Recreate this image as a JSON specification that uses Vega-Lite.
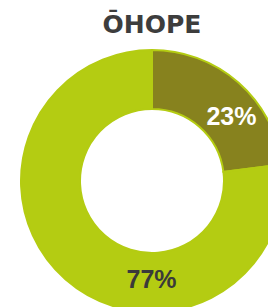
{
  "$schema": "https://vega.github.io/schema/vega-lite/v6.json",
  "autosize": {"type": "none"},
  "width": 232,
  "height": 200,
  "padding": {"left": 36, "top": 81, "right": 0, "bottom": 26},
  "background": "white",
  "title": {
    "text": "ŌHOPE",
    "anchor": "middle",
    "frame": "group",
    "font": "DejaVu Sans",
    "fontSize": 25,
    "fontWeight": "bold",
    "color": "#3d3d3d",
    "offset": 8
  },
  "data": {
    "values": [
      {"category": "Yes", "pct": 23, "label": "23%"},
      {"category": "No", "pct": 77, "label": "77%"}
    ]
  },
  "encoding": {
    "theta": {"field": "pct", "type": "quantitative", "stack": true},
    "order": {"field": "pct", "type": "quantitative", "sort": "ascending"}
  },
  "layer": [
    {
      "mark": {"type": "arc", "outerRadius": 131, "innerRadius": 72, "stroke": "#b4cc12", "strokeWidth": 2},
      "encoding": {
        "color": {
          "field": "category",
          "type": "nominal",
          "scale": {"domain": ["Yes", "No"], "range": ["#87821e", "#b4cc12"]},
          "legend": null
        }
      }
    },
    {
      "mark": {"type": "text", "radius": 102, "dx": 12, "dy": 13, "font": "Liberation Sans", "fontSize": 25, "fontWeight": "bold", "fill": "white"},
      "encoding": {
        "text": {"condition": {"test": "datum.category === 'Yes'", "field": "label"}, "value": ""}
      }
    },
    {
      "mark": {"type": "text", "radius": 99, "dx": 65, "dy": 25, "font": "Liberation Sans", "fontSize": 25, "fontWeight": "bold", "fill": "#3a3a3a"},
      "encoding": {
        "text": {"condition": {"test": "datum.category === 'No'", "field": "label"}, "value": ""}
      }
    }
  ],
  "config": {"view": {"stroke": null}}
}
